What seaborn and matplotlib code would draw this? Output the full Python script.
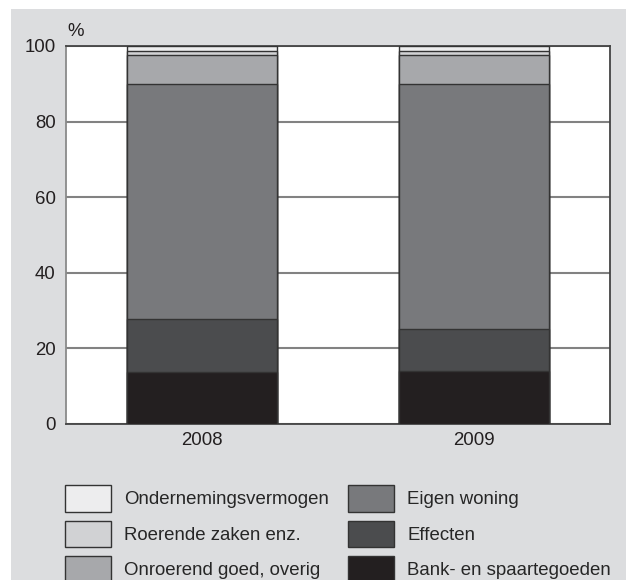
import pandas as pd
import numpy as np
import matplotlib
matplotlib.use('Agg')
import matplotlib.pyplot as plt
import matplotlib.patches as mpatches
import seaborn as sns

sns.set_style('white')
plt.rcParams['font.family'] = ['Liberation Sans', 'DejaVu Sans']

# Samenstelling vermogen (%), per jaar
years = ['2008', '2009']
bank = [13.7, 14.0]
effecten = [14.0, 11.2]
eigen_woning = [62.2, 64.7]
onroerend = [7.7, 7.7]
roerende = [1.1, 1.1]
ondernemingsvermogen = [1.3, 1.3]

labels = ['Bank- en spaartegoeden', 'Effecten', 'Eigen woning',
          'Onroerend goed, overig', 'Roerende zaken enz.', 'Ondernemingsvermogen']
colors = ['#231f20', '#4b4c4e', '#78797c', '#a7a8ab', '#d1d2d4', '#ededee']

df = pd.DataFrame({'jaar': years, labels[0]: bank, labels[1]: effecten,
                   labels[2]: eigen_woning, labels[3]: onroerend,
                   labels[4]: roerende, labels[5]: ondernemingsvermogen})
# cumulative sums so we can draw stacked bars top-down
cum = df[labels].cumsum(axis=1)
cum['jaar'] = df['jaar']

fig = plt.figure(figsize=(6.26, 5.8), dpi=100, facecolor='white')
# grey panel behind everything
panel = mpatches.Rectangle((11 / 626, 0), 1, 1 - 9 / 580, transform=fig.transFigure,
                           facecolor='#dcdddf', edgecolor='none', zorder=-10)
fig.patches.append(panel)

ax = fig.add_axes([66 / 626, 1 - 424 / 580, 544 / 626, 378 / 580])
ax.set_facecolor('white')

for i in range(len(labels) - 1, -1, -1):
    sns.barplot(data=cum, x='jaar', y=labels[i], color=colors[i], width=0.55,
                edgecolor='#333333', linewidth=1.0, saturation=1, ax=ax, zorder=3)

ax.set_xlim(-0.5, 1.5)
ax.set_ylim(0, 100)
ax.set_yticks([0, 20, 40, 60, 80, 100])
ax.set_xlabel('')
ax.set_ylabel('')
ax.tick_params(axis='both', length=0, labelsize=13.4, colors='#231f20')
ax.tick_params(axis='y', pad=7.5)
ax.tick_params(axis='x', pad=6)
ax.yaxis.grid(True, color='#828282', linewidth=1.5, zorder=0)
ax.set_axisbelow(True)
for s in ['top', 'right', 'bottom']:
    ax.spines[s].set_color('#444444')
    ax.spines[s].set_linewidth(1.3)
ax.spines['left'].set_color('#8a8a8a')
ax.spines['left'].set_linewidth(1.3)

fig.text(67 / 626, 1 - 36 / 580, '%', fontsize=13.4, color='#231f20')

# legend, column-wise: first column light shades
order = [5, 4, 3, 2, 1, 0]
handles = [mpatches.Patch(facecolor=colors[i], edgecolor='#333333', linewidth=1.0) for i in order]
fig.legend(handles, [labels[i] for i in order], ncol=2, loc='upper left',
           bbox_to_anchor=(65 / 626, 1 - 485 / 580), frameon=False, fontsize=13.4,
           handlelength=2.45, handleheight=1.82, labelspacing=0.48,
           handletextpad=0.72, columnspacing=1.05, borderpad=0, borderaxespad=0)

fig.savefig('out.png', dpi=100, facecolor=fig.get_facecolor())
